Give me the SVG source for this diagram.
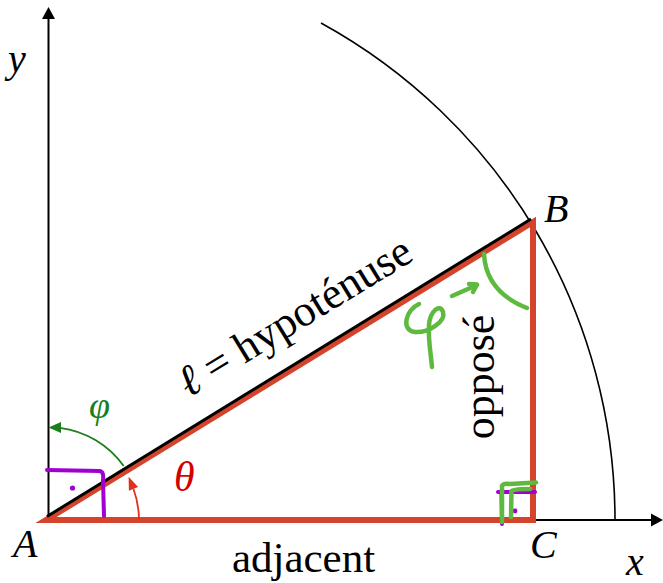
<svg xmlns="http://www.w3.org/2000/svg" width="663" height="583" viewBox="0 0 663 583">
<style>
.lbl{font-family:"Liberation Serif","DejaVu Serif",serif;font-style:italic;fill:#000}
.word{font-family:"Liberation Serif","DejaVu Serif",serif;fill:#000}
.phi{fill:#1a7f1a}
.theta{fill:#d40000}
.ax{stroke:#000;stroke-width:2;fill:none}
.hand-g{stroke:#5dba3f;stroke-width:4.5;fill:none;stroke-linecap:round;stroke-linejoin:round}
.hand-p{stroke:#a000d0;stroke-width:4;fill:none;stroke-linecap:round;stroke-linejoin:round}
</style>
<rect width="663" height="583" fill="#fff"/>
<g id="axes">
  <line class="ax" x1="48.5" y1="520" x2="48.5" y2="18"/>
  <polygon points="48.5,7 42,19 55,19" fill="#000"/>
  <line class="ax" x1="48" y1="520" x2="653" y2="520"/>
  <polygon points="663,520 651,513.5 651,526.5" fill="#000"/>
</g>
<g id="circle-arc">
  <path d="M321,23 A567,567 0 0 1 615,520" fill="none" stroke="#000" stroke-width="1.6"/>
</g>
<g id="triangle">
  <polygon points="46,520 533,222 533,520" fill="none" stroke="#d4432b" stroke-width="6" stroke-linejoin="miter" stroke-miterlimit="10"/>
  <line x1="47" y1="516.5" x2="531" y2="219" stroke="#000" stroke-width="3"/>
</g>
<g id="angles">
  <path d="M123.7,466 A93,93 0 0 0 60,427.8" fill="none" stroke="#1a7f1a" stroke-width="1.8"/>
  <polygon points="48.5,427.5 61,422 61,433" fill="#1a7f1a"/>
  <path d="M139,520 A91,91 0 0 0 133.5,489" fill="none" stroke="#e0301e" stroke-width="1.8"/>
  <polygon points="128.6,476.8 138.1,487 128.9,490.8" fill="#e0301e"/>
</g>
<g id="labels">
  <text class="lbl" x="8" y="72" font-size="40">y</text>
  <text class="lbl" x="626" y="575" font-size="40">x</text>
  <text class="lbl" x="13" y="557" font-size="40">A</text>
  <text class="lbl" x="544" y="222" font-size="40">B</text>
  <text class="lbl" x="530" y="558" font-size="40">C</text>
  <text class="lbl phi" x="89" y="418" font-size="38">φ</text>
  <text class="lbl theta" x="174" y="491" font-size="42">θ</text>
  <text class="word" x="303.5" y="572" font-size="43" text-anchor="middle">adjacent</text>
  <text class="word" font-size="44" text-anchor="middle" transform="translate(494,377) rotate(-90)">opposé</text>
  <text class="word" font-size="44" transform="translate(189,398) rotate(-31.5)"><tspan font-style="italic">ℓ</tspan> = hypoténuse</text>
</g>
<g id="annotations">
  <path class="hand-p" d="M47,470 L100,471 Q104,472 103,480 L104,516"/>
  <circle cx="72.5" cy="488" r="2.6" fill="#a000d0"/>
  <path class="hand-p" d="M498,492 L535,492"/>
  <path class="hand-p" d="M501.5,493 L502,524"/>
  <circle cx="515" cy="511" r="2.4" fill="#a000d0"/>
  <path class="hand-g" d="M502,522 L502,486 Q503,483 510,484 L536,482.5"/>
  <path class="hand-g" d="M511,517 L511.5,491 Q512,489 530,489"/>
  <path class="hand-g" d="M484,254 Q486,292 527,308"/>
  <path class="hand-g" d="M452,296 L477,285"/>
  <path class="hand-g" d="M469,284 L477,284.5 L473,292"/>
  <path class="hand-g" d="M419,304 C405,310 401,331 415,332 C428,333 446,322 443,312 C440,303 430,311 429,325 C428,340 431,355 432,367"/>
</g>
</svg>
